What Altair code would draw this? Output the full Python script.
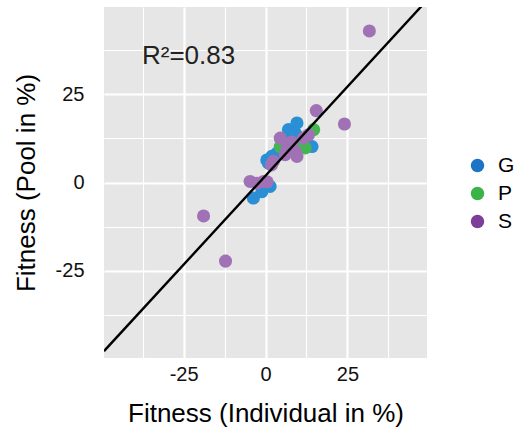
import altair as alt
import pandas as pd

# Fitness estimates (%), individual assay (x) vs pooled assay (y), by group
g_x = [-3.7, -1.1, 1.4, 0.4, 0.4, 1.9, 3.5, 7.0, 9.6, 9.1, 7.5, 10.1, 14.2, 0.9]
g_y = [-4.4, -2.6, -1.1, -0.7, 6.4, 7.4, 8.3, 15.0, 16.9, 14.0, 12.1, 10.2, 10.2, 5.5]

p_x = [14.7, 4.5, 12.1, 11.5]
p_y = [15.0, 10.2, 9.8, 10.5]

s_x = [31.7, 24.1, 15.5, -18.9, -12.2, -4.7, -2.6, -0.6, 0.5, 2.4, 1.8,
       4.5, 11.6, 13.1, 9.1, 6.0, 9.6, 7.0, 6.5, 8.0]
s_y = [43.0, 16.6, 20.4, -9.5, -22.3, 0.3, -0.2, 0.3, 0.2, 6.0, 5.0,
       12.6, 12.6, 13.5, 8.8, 7.9, 7.4, 10.7, 9.3, 11.5]

groups = ["G", "P", "S"]
point_colors = ["#2A8FD5", "#44B551", "#A171B5"]
legend_colors = ["#1B74C6", "#3AB449", "#7C3E98"]

# linear fit drawn across the panel
fit_slope = 1.01
fit_intercept = 1.94
r2_label = "R²=0.83"

x_domain = [-49.3, 49.3]
y_domain = [-49.8, 49.8]
grid_values = [-37.5, -25, -12.5, 0, 12.5, 25, 37.5]

rows = []
for name, xs, ys in (("G", g_x, g_y), ("P", p_x, p_y), ("S", s_x, s_y)):
    rows += [{"x": a, "y": b, "group": name} for a, b in zip(xs, ys)]
df = pd.DataFrame(rows)

fit_df = pd.DataFrame({"x": x_domain})
fit_df["y"] = fit_slope * fit_df["x"] + fit_intercept

major = "datum.value % 25 == 0"


def make_axis(**kw):
    return alt.Axis(
        values=grid_values,
        labelExpr=f"{major} ? toString(datum.value) : ''",
        gridWidth={"condition": {"test": major, "value": 2.2}, "value": 1.1},
        gridColor="white",
        gridOpacity=1,
        ticks=False,
        domain=False,
        labelFontSize=20,
        labelColor="#111111",
        titleFontSize=26,
        titleFontWeight="normal",
        titleColor="black",
        **kw,
    )


x_enc = alt.X(
    "x:Q",
    scale=alt.Scale(domain=x_domain, nice=False, zero=False),
    axis=make_axis(title="Fitness (Individual in %)", labelPadding=6, titlePadding=16),
)
y_enc = alt.Y(
    "y:Q",
    scale=alt.Scale(domain=y_domain, nice=False, zero=False),
    axis=make_axis(title="Fitness (Pool in %)", labelPadding=20, titlePadding=16),
)

key_layer = alt.Chart(df).mark_circle(opacity=0).encode(
    x=x_enc,
    y=y_enc,
    fill=alt.Fill(
        "group:N",
        scale=alt.Scale(domain=groups, range=legend_colors),
        legend=alt.Legend(
            title=None,
            orient="none",
            legendX=363,
            legendY=148,
            padding=0,
            symbolType="circle",
            symbolSize=180,
            symbolOpacity=1,
            symbolStrokeWidth=0,
            labelFontSize=21,
            labelColor="black",
            labelOffset=10,
            rowPadding=6,
        ),
    ),
)

points = alt.Chart(df).mark_circle(size=172, opacity=1).encode(
    x=x_enc,
    y=y_enc,
    color=alt.Color("group:N", scale=alt.Scale(domain=groups, range=point_colors), legend=None),
)

fit_line = alt.Chart(fit_df).mark_line(color="black", strokeWidth=2.4, clip=True).encode(
    x="x:Q", y="y:Q"
)

r2_text = alt.Chart().mark_text(
    text=r2_label, align="left", baseline="alphabetic", fontSize=26, color="#222222"
).encode(x=alt.datum(-37.7), y=alt.datum(33.7))

chart = (
    alt.layer(key_layer, points, fit_line, r2_text)
    .properties(
        width=323,
        height=351,
        autosize=alt.AutoSizeParams(type="none"),
        padding={"left": 104, "top": 7, "right": 93, "bottom": 83},
    )
    .configure(font="Liberation Sans")
    .configure_view(fill="#E5E6E5", stroke=None)
)

chart.save("out.html", embed_options={"renderer": "svg", "actions": False})
